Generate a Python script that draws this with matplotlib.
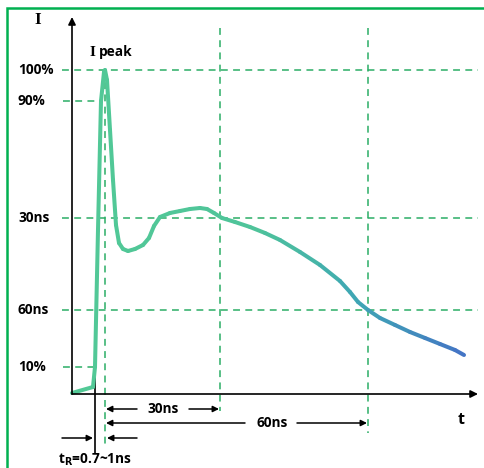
import numpy as np
import matplotlib.pyplot as plt
from matplotlib.collections import LineCollection
from matplotlib.colors import LinearSegmentedColormap

# pulse curve (arbitrary units, t right, I up)
t_curve = [0, 21, 23, 26, 29, 32, 33, 35, 38, 41, 44, 47, 51, 56, 63, 71, 77, 82,
           88, 98, 108, 118, 128, 135, 142, 150, 163, 178, 193, 208, 228, 248,
           268, 278, 286, 296, 308, 323, 338, 353, 368, 383, 392]
I_curve = [1, 7, 27, 164, 293, 322, 324, 314, 264, 214, 169, 151, 145, 143, 145,
           149, 156, 168, 177, 181, 183, 185, 186, 185, 181, 176, 172, 167, 161,
           154, 142, 129, 113, 102, 92, 84, 76, 69, 62, 56, 50, 44, 39]

# reference levels and their labels
level_labels = ['100%', '90%', '30ns', '60ns', '10%']
level_values = [324, 293, 176, 84, 27]
t_peak, t_30, t_60 = 33, 148, 296

DASH = '#2bae66'
BORDER = '#00b050'
cmap = LinearSegmentedColormap.from_list(
    'pulse', [(0, '#52c996'), (0.45, '#4fc49a'), (0.7, '#3fa9b3'), (1, '#4471c6')])

fig = plt.figure(figsize=(4.84, 4.68), dpi=100)
ax = fig.add_axes([0, 0, 1, 1])
ax.set_xlim(-72, 412)
ax.set_ylim(-74, 394)
ax.axis('off')

font = dict(family='Open Sans', fontweight='bold', fontsize=9.8)

# green frame (left and top)
ax.plot([-65, -65, 412], [-74, 386, 386], color=BORDER, lw=1.8,
        solid_joinstyle='miter', clip_on=False)

# dashed guide lines
dkw = dict(color=DASH, lw=1.1, dashes=(4.5, 3.5))
for lab, v in zip(level_labels, level_values):
    if lab == '90%':
        ax.plot([-9, 29], [v, v], **dkw)
    elif lab == '10%':
        ax.plot([-9, 23], [v, v], **dkw)
    else:
        ax.plot([-10, 406], [v, v], **dkw)
    ax.text(-54, v, lab, ha='left', va='center', **font)
ax.plot([t_peak, t_peak], [324, -51], **dkw)
ax.plot([t_30, t_30], [366, -17], **dkw)
ax.plot([t_60, t_60], [366, -39], **dkw)

# axes
akw = dict(arrowstyle='-|>', color='k', lw=1.2, mutation_scale=11,
           shrinkA=0, shrinkB=0)
ax.annotate('', xy=(0, 377), xytext=(0, 0), arrowprops=akw)
ax.annotate('', xy=(406, 0), xytext=(0, 0), arrowprops=akw)
ax.text(-34, 374, 'I', ha='center', va='center', family='Liberation Serif',
        fontweight='bold', fontsize=12.5)
ax.text(389, -26, 't', ha='center', va='center', family='Open Sans',
        fontweight='bold', fontsize=11.5)
ax.text(18, 342, 'I', ha='left', va='center', family='Liberation Serif',
        fontweight='bold', fontsize=11)
ax.text(27, 342, 'peak', ha='left', va='center', **font)

# rise-time marker
ax.plot([23, 23], [26, -59], color='k', lw=1.2)

# gradient pulse
pts = np.column_stack([t_curve, I_curve])
segs = np.stack([pts[:-1], pts[1:]], axis=1)
lc = LineCollection(segs, cmap=cmap, linewidths=2.9, capstyle='round',
                    joinstyle='round')
lc.set_array(np.array(t_curve[:-1]) / max(t_curve))
lc.set_clim(0, 1)
ax.add_collection(lc)

# duration arrows
hkw = dict(arrowstyle='-|>', color='k', lw=1.1, mutation_scale=9,
           shrinkA=0, shrinkB=0)
ax.annotate('', xy=(34, -15), xytext=(65, -15), arrowprops=hkw)
ax.annotate('', xy=(147, -15), xytext=(117, -15), arrowprops=hkw)
ax.text(91, -15, '30ns', ha='center', va='center', **font)
ax.annotate('', xy=(34, -29), xytext=(173, -29), arrowprops=hkw)
ax.annotate('', xy=(295, -29), xytext=(225, -29), arrowprops=hkw)
ax.text(200, -29, '60ns', ha='center', va='center', **font)
ax.annotate('', xy=(21, -44), xytext=(-10, -44), arrowprops=hkw)
ax.annotate('', xy=(35, -44), xytext=(65, -44), arrowprops=hkw)
ax.text(23, -66, r't$_{\mathbf{R}}$=0.7~1ns', ha='center', va='center', **font)

fig.savefig('out.png', dpi=100)
